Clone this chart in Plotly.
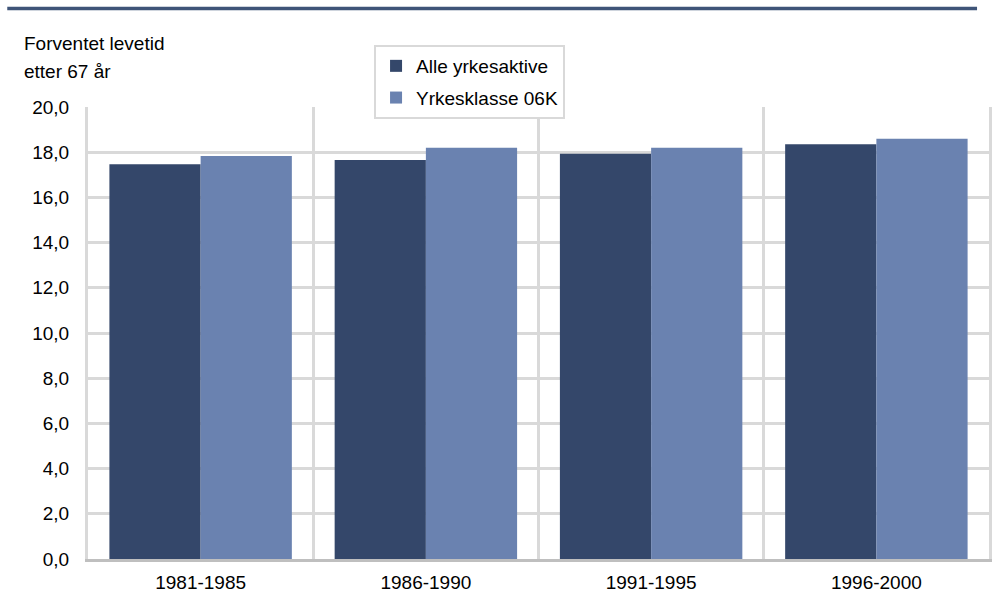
import plotly.graph_objects as go

# Periods and expected remaining lifetime after age 67 (years)
perioder = ["1981-1985", "1986-1990", "1991-1995", "1996-2000"]
alle_yrkesaktive = [17.47, 17.65, 17.93, 18.35]
yrkesklasse_06k = [17.83, 18.2, 18.2, 18.6]

serie_navn = ["Alle yrkesaktive", "Yrkesklasse 06K"]
y_ticks = [0, 2, 4, 6, 8, 10, 12, 14, 16, 18, 20]

MORK = "#34476a"
LYS = "#6a82b0"
GRID = "#d9d9d9"
FONT = "Liberation Sans, Arial, sans-serif"
FS = 19

fig = go.Figure()
fig.add_trace(go.Bar(x=perioder, y=alle_yrkesaktive, name=serie_navn[0],
                     marker=dict(color=MORK, line=dict(width=0)),
                     legendgroup="a"))
fig.add_trace(go.Bar(x=perioder, y=yrkesklasse_06k, name=serie_navn[1],
                     marker=dict(color=LYS, line=dict(width=0)),
                     legendgroup="b"))

L, R, T, B = 88, 8, 107, 56
W, H = 1000, 615
pw, ph = W - L - R, H - T - B

def px_x(px):
    return (px - L) / pw

def px_y(py):
    return (H - B - py) / ph

fig.update_layout(
    width=W, height=H,
    margin=dict(l=L, r=R, t=T, b=B),
    paper_bgcolor="white", plot_bgcolor="white",
    font=dict(family=FONT, size=FS, color="#000000"),
    separators=", ",
    barmode="group", bargap=0.19, bargroupgap=0,
    showlegend=True,
    legend=dict(x=px_x(375), y=px_y(45), xanchor="left", yanchor="top",
                bgcolor="white", bordercolor=GRID, borderwidth=2,
                traceorder="grouped", tracegroupgap=4,
                font=dict(family=FONT, size=FS, color="#000000")),
    xaxis=dict(range=[-0.5, 3.5], showgrid=True, gridcolor=GRID, gridwidth=3,
               tickson="boundaries", ticks="", showline=True,
               linecolor="#bfbfbf", linewidth=3, ticklabelstandoff=4,
               zeroline=False, fixedrange=True),
    yaxis=dict(range=[0, 20], tickvals=y_ticks, tickformat=".1f",
               showgrid=True, gridcolor=GRID, gridwidth=3,
               showline=True, mirror=True, linecolor=GRID, linewidth=3,
               ticks="", ticklabelstandoff=12, zeroline=False, fixedrange=True),
    shapes=[dict(type="line", xref="paper", yref="paper",
                 x0=px_x(7), x1=px_x(980), y0=px_y(8.5), y1=px_y(8.5),
                 line=dict(color="#3f5478", width=3.5))],
    annotations=[
        dict(text="Forventet levetid", xref="paper", yref="paper",
             x=px_x(22), y=px_y(43), xanchor="left", yanchor="middle",
             showarrow=False, font=dict(family=FONT, size=FS)),
        dict(text="etter 67 år", xref="paper", yref="paper",
             x=px_x(22), y=px_y(71), xanchor="left", yanchor="middle",
             showarrow=False, font=dict(family=FONT, size=FS)),
    ],
)

fig.write_html("out.html")
